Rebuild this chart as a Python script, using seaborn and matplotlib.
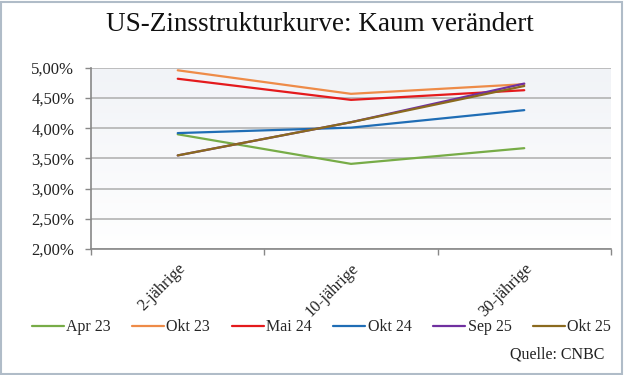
import numpy as np
import pandas as pd
import matplotlib
matplotlib.use('Agg')
import matplotlib.pyplot as plt
import matplotlib.ticker as mticker
import seaborn as sns

# Data
maturities = ['2-jährige', '10-jährige', '30-jährige']
series_names = ['Apr 23', 'Okt 23', 'Mai 24', 'Okt 24', 'Sep 25', 'Okt 25']
apr_23 = [3.90, 3.41, 3.67]
okt_23 = [4.96, 4.57, 4.73]
mai_24 = [4.82, 4.47, 4.63]
okt_24 = [3.92, 4.01, 4.30]
sep_25 = [3.55, 4.10, 4.74]
okt_25 = [3.55, 4.10, 4.70]
colors = ['#77AC47', '#EE8B48', '#E41A1C', '#1F6DB5', '#7030A0', '#8B6A1E']

rows = []
for name, vals in zip(series_names, [apr_23, okt_23, mai_24, okt_24, sep_25, okt_25]):
    for m, v in zip(maturities, vals):
        rows.append({'Laufzeit': m, 'Rendite': v, 'Serie': name})
df = pd.DataFrame(rows)

sns.set_style('white')
plt.rcParams['font.family'] = ['Liberation Serif', 'DejaVu Serif']

fig = plt.figure(figsize=(6.24, 3.75), dpi=100)
ax = fig.add_axes([0.146, 0.336, 0.833, 0.483])

# light gradient in the plot area
grad = np.linspace(0, 1, 256).reshape(-1, 1)
cmap = matplotlib.colors.LinearSegmentedColormap.from_list('bg', ['#F1F3F7', '#FFFFFF'])
ax.imshow(grad, cmap=cmap, aspect='auto', extent=[0, 1, 0, 1],
          transform=ax.transAxes, zorder=0)

sns.lineplot(data=df, x='Laufzeit', y='Rendite', hue='Serie', palette=colors,
             hue_order=series_names, sort=False, linewidth=1.6, ax=ax, zorder=3)

ax.set_xlim(-0.5, 2.5)
ax.set_ylim(2.0, 5.0)
ax.set_yticks(np.arange(2.0, 5.01, 0.5))
ax.yaxis.set_major_formatter(mticker.FuncFormatter(lambda v, p: f'{v:.2f}%'.replace('.', ',')))
ax.grid(axis='y', color='#B3B3B3', linewidth=1.2, zorder=1)
ax.set_axisbelow(True)

ax.set_xticks([0, 1, 2])
ax.set_xticklabels(maturities, rotation=45, ha='right', va='top', rotation_mode='anchor')
ax.set_xticks([-0.5, 0.5, 1.5, 2.5], minor=True)
ax.tick_params(axis='x', which='major', length=0, pad=8, labelsize=12, colors='#222222')
ax.tick_params(axis='x', which='minor', length=4, width=1, color='#888888', direction='out', bottom=True)
ax.tick_params(axis='y', length=4, width=1, color='#888888', direction='out', left=True,
               pad=8, labelsize=12, labelcolor='#222222')

for s in ['top', 'right']:
    ax.spines[s].set_visible(False)
for s in ['left', 'bottom']:
    ax.spines[s].set_color('#888888')
    ax.spines[s].set_linewidth(1.2)
ax.set_xlabel('')
ax.set_ylabel('')

handles, labels = ax.get_legend_handles_labels()
ax.legend(handles, labels, loc='center', bbox_to_anchor=(0.515, 0.127),
          bbox_transform=fig.transFigure, ncol=6, frameon=False, fontsize=11.5,
          handlelength=2.0, handletextpad=0.15, columnspacing=1.35)

fig.text(0.512, 0.935, 'US-Zinsstrukturkurve: Kaum verändert', ha='center', va='center',
         fontsize=19.5, color='#111111')
fig.text(0.968, 0.055, 'Quelle: CNBC', ha='right', va='center', fontsize=11.5, color='#222222')

border = matplotlib.patches.Rectangle((0.002, 0.003), 0.994, 0.992, transform=fig.transFigure,
                                      fill=False, edgecolor='#B0BCC8', linewidth=1.5)
fig.patches.append(border)

fig.savefig('out.png', dpi=100)
